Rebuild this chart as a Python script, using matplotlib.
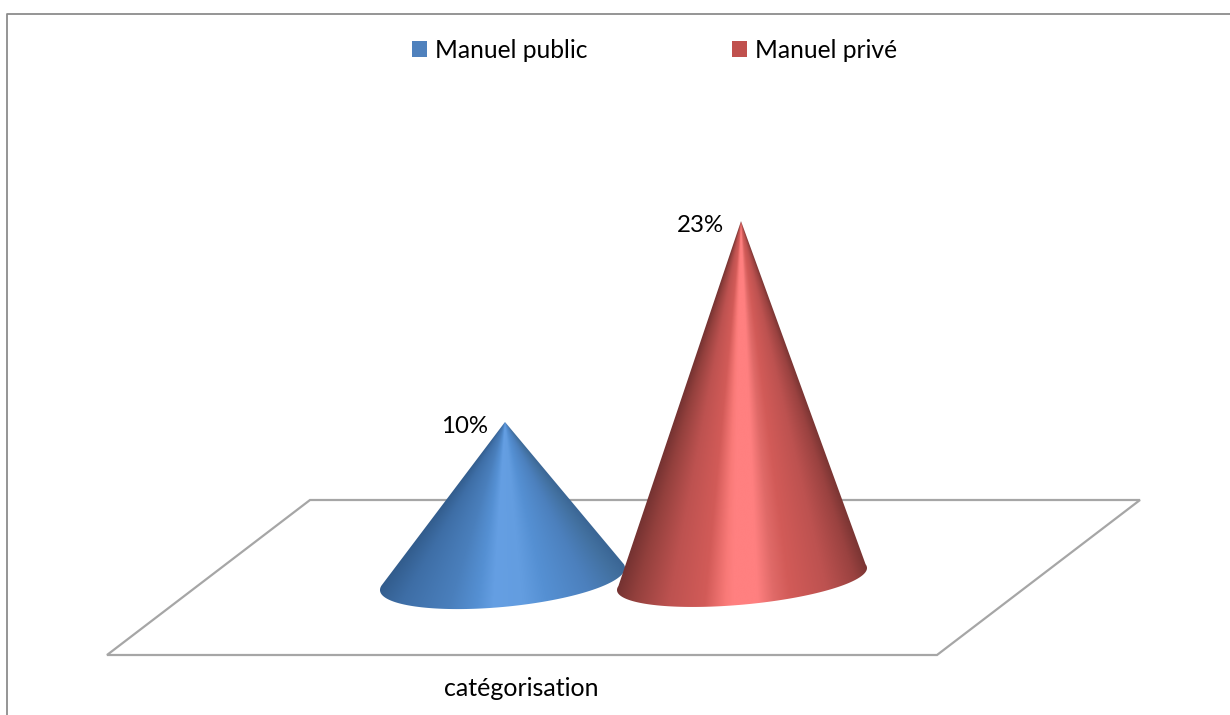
import numpy as np
import matplotlib
matplotlib.use("Agg")
import matplotlib.pyplot as plt
from matplotlib.colors import LinearSegmentedColormap
from matplotlib.patches import Patch, Polygon

series = ["Manuel public", "Manuel privé"]
values = [10, 23]
value_labels = ["10%", "23%"]
category = "catégorisation"
key_colors = ["#4f81bd", "#c0504d"]

W, H = 1230, 715
BASE_PX = 576.5      # pixel row of value 0
PX_PER_PCT = 15.45

cmaps = [
    LinearSegmentedColormap.from_list("b", [
        (0, "#325c8c"), (.12, "#3e6ea6"), (.3, "#4a7fbc"), (.40, "#5590d3"),
        (.46, "#659fe3"), (.56, "#639de0"), (.64, "#5590d3"), (.8, "#4c80bd"),
        (.93, "#42709f"), (1, "#3a6594")]),
    LinearSegmentedColormap.from_list("r", [
        (0, "#743231"), (.08, "#93403d"), (.22, "#bd5250"), (.36, "#d25b58"),
        (.44, "#f97a78"), (.47, "#ff8080"), (.56, "#ff8080"), (.62, "#e06a68"),
        (.68, "#d25b58"), (.82, "#bd5250"), (.94, "#9a4240"), (1, "#7a3533")]),
]
cx_px = [502.5, 742.0]     # base centre
apex_x_px = [505.0, 741.0]
half_w = [122.5, 125.0]
tilt = [11.0, 11.0]
semi = [28.0, 25.7]

fig = plt.figure(figsize=(W / 100, H / 100), dpi=100)
ax = fig.add_axes([0, 0, 1, 1])
ax.set_xlim(0, W)
y_of = lambda px: (BASE_PX - px) / PX_PER_PCT
ax.set_ylim(y_of(H), y_of(0))
ax.axis("off")

# chart frame
ax.plot([7, 7, W], [y_of(H), y_of(14), y_of(14)], color="#8c8c8c", lw=1.3, zorder=1)

# floor
floor_x = [310, 1140, 937, 107]
floor_px = [500, 500, 655, 655]
ax.add_patch(Polygon(list(zip(floor_x, map(y_of, floor_px))), closed=True, fill=False,
                     ec="#a6a6a6", lw=1.6, zorder=2))

for i, v in enumerate(values):
    apex_px = BASE_PX - v * PX_PER_PCT
    t = np.linspace(-0.15, np.pi + 0.15, 240)
    ax_x = cx_px[i] + half_w[i] * np.cos(t)
    ax_py = BASE_PX + (-tilt[i] * np.cos(t) + semi[i] * np.sin(t)) + 2.5
    outline = [(apex_x_px[i], y_of(apex_px))] + [(a, y_of(b)) for a, b in zip(ax_x, ax_py)]
    clip = Polygon(outline, closed=True, fc="none", ec="none", transform=ax.transData)
    ax.add_patch(clip)

    x0, x1 = ax_x.min() - 2, ax_x.max() + 2
    p0, p1 = apex_px - 2, ax_py.max() + 2
    gx, gy = np.meshgrid(np.linspace(x0, x1, 1000), np.linspace(p0, p1, 800))
    u = (gx - apex_x_px[i]) / np.maximum(gy - apex_px, 1e-3)
    edge_u = (ax_x - apex_x_px[i]) / (ax_py - apex_px)
    uL, uR = edge_u.min(), edge_u.max()
    shade = np.where(u < 0, 0.5 * (1 - u / uL), 0.5 + 0.5 * u / uR)
    im = ax.imshow(shade, extent=(x0, x1, y_of(p1), y_of(p0)), origin="upper",
                   cmap=cmaps[i], vmin=0, vmax=1, aspect="auto",
                   interpolation="bilinear", zorder=3 + i)
    im.set_clip_path(clip)

    ax.text(apex_x_px[i] - 17, v - 4.5 / PX_PER_PCT, value_labels[i],
            ha="right", va="center", family="Lato", fontsize=17.3, color="black", zorder=6)

ax.set_xlim(0, W)
ax.set_ylim(y_of(H), y_of(0))

ax.text(521, y_of(689), category, ha="center", va="center", family="Lato",
        fontsize=18, color="black")

handles = [Patch(fc=c, ec="none") for c in key_colors]
leg = ax.legend(handles, series, ncol=2, loc="center", frameon=False,
                bbox_to_anchor=(654.5 / W, 1 - 50 / H), prop={"family": "Lato", "size": 17.7},
                handlelength=0.61, handleheight=0.61, handletextpad=0.32,
                columnspacing=5.9, borderpad=0, borderaxespad=0)

fig.savefig("out.png", dpi=100, facecolor="white")
